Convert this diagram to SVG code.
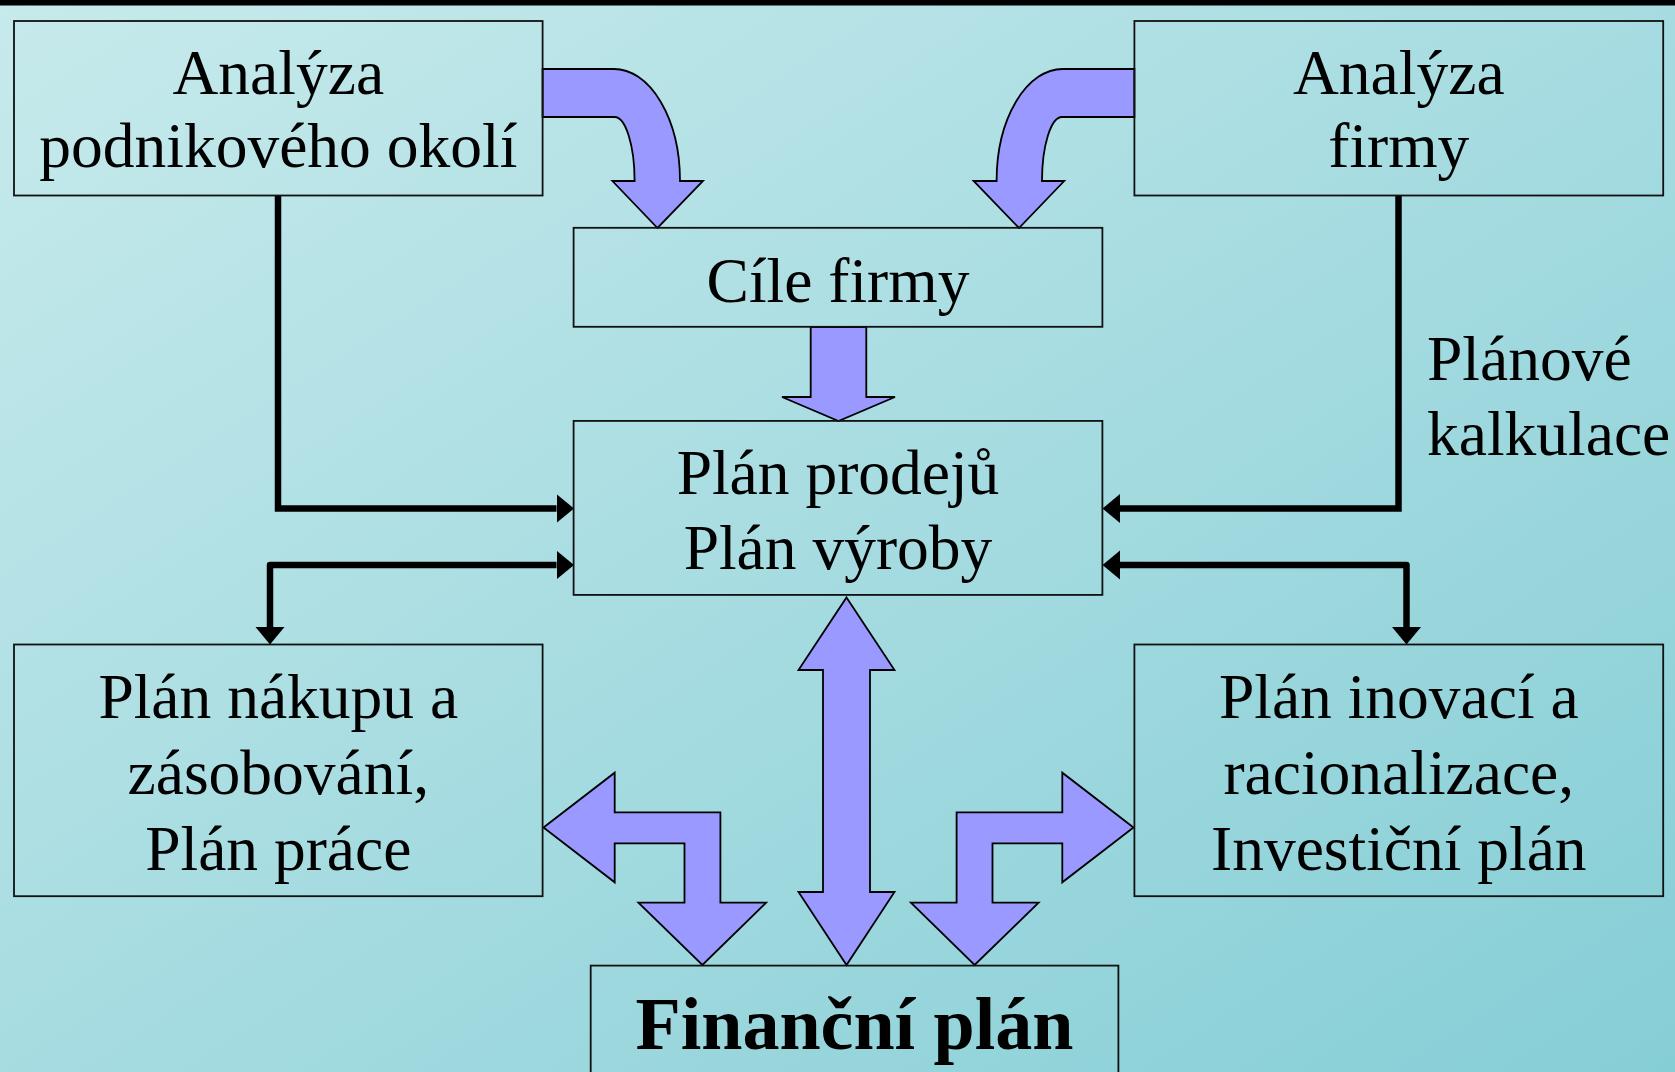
<svg xmlns="http://www.w3.org/2000/svg" width="1675" height="1072" viewBox="0 0 1675 1072">
<defs>
<linearGradient id="bg" x1="0" y1="0" x2="1" y2="1">
<stop offset="0" stop-color="#C7EAEC"/>
<stop offset="1" stop-color="#86CED6"/>
</linearGradient>
<marker id="ah" markerUnits="userSpaceOnUse" markerWidth="20" markerHeight="32" viewBox="0 -16 20 32" refX="0" refY="0" orient="auto-start-reverse">
<path d="M0,-14.5 L17.5,0 L0,14.5 Z" fill="#000"/>
</marker>
<style>
.box{fill:none;stroke:#111;stroke-width:1.8}
.t{font-family:"Liberation Serif","Times New Roman",serif;font-size:63.5px;fill:#000;text-anchor:middle}
.tl{text-anchor:start}
.b{font-weight:bold;font-size:74px}
.blk{fill:#9999FF;stroke:#000;stroke-width:1.8;stroke-linejoin:miter}
.con{fill:none;stroke:#000;stroke-width:6.5;marker-end:url(#ah)}
.dbl{marker-start:url(#ah)}
</style>
</defs>
<rect width="1675" height="1072" fill="url(#bg)"/>
<rect width="1675" height="5.5" fill="#000"/>

<g id="connectors">
<path class="blk" d="M542.6 69 L614 69 A66 112 0 0 1 680 181 L703 181 L657.5 228 L612.4 181 L634.6 181 A20 64 0 0 0 614.6 117 L542.6 117 Z"/>
<path class="blk" d="M1134.4 69 L1062.6 69 A66 112 0 0 0 996.6 181 L973.6 181 L1019 228 L1064.2 181 L1042 181 A20 64 0 0 1 1062 117 L1134.4 117 Z"/>
<path class="blk" d="M810.7 327 L866.3 327 L866.3 397 L895 397 L838.5 421 L782 397 L810.7 397 Z"/>
<path class="blk" d="M846.5 597.5 L894.5 670 L870 670 L870 892 L894.5 892 L846.5 965 L798.5 892 L823 892 L823 670 L798.5 670 Z"/>
<path class="blk" d="M543.5 827.5 L614.7 772.7 L614.7 812.3 L720.4 812.3 L720.4 902.7 L766.1 902.7 L702.4 965 L638.4 902.7 L684.5 902.7 L684.5 843.3 L614.7 843.3 L614.7 882.3 Z"/>
<path class="blk" d="M1133.5 827.5 L1062.3 772.7 L1062.3 812.3 L956.6 812.3 L956.6 902.7 L910.9 902.7 L974.6 965 L1038.6 902.7 L992.5 902.7 L992.5 843.3 L1062.3 843.3 L1062.3 882.3 Z"/>
<path class="con" d="M278 196 L278 508.5 L556.5 508.5"/>
<path class="con dbl" stroke-linejoin="round" d="M556.5 565 L270 565 L270 627"/>
<path class="con" d="M1398.5 196 L1398.5 508.5 L1120 508.5"/>
<path class="con dbl" stroke-linejoin="round" d="M1120 565 L1406.5 565 L1406.5 627"/>
</g>

<g id="analyza-okoli">
<rect class="box" x="14" y="21" width="528.6" height="174.5"/>
<text class="t" x="278.3" y="94">Analýza</text>
<text class="t" x="278.3" y="167">podnikového okolí</text>
</g>
<g id="analyza-firmy">
<rect class="box" x="1134.4" y="21" width="528.8" height="174.5"/>
<text class="t" x="1398.8" y="94">Analýza</text>
<text class="t" x="1398.8" y="167">firmy</text>
</g>
<g id="cile-firmy">
<rect class="box" x="573.6" y="227.8" width="528.8" height="99"/>
<text class="t" x="838" y="302">Cíle firmy</text>
</g>
<g id="plan-prodeju">
<rect class="box" x="573.6" y="420.9" width="528.8" height="174"/>
<text class="t" x="838" y="494">Plán prodejů</text>
<text class="t" x="838" y="569">Plán výroby</text>
</g>
<g id="planove-kalkulace">
<text class="t tl" x="1427" y="380">Plánové</text>
<text class="t tl" x="1427" y="455">kalkulace</text>
</g>
<g id="plan-nakupu">
<rect class="box" x="14" y="644.5" width="528.6" height="251.7"/>
<text class="t" x="278.3" y="718">Plán nákupu a</text>
<text class="t" x="278.3" y="794">zásobování,</text>
<text class="t" x="278.3" y="870">Plán práce</text>
</g>
<g id="plan-inovaci">
<rect class="box" x="1134.4" y="644.5" width="528.8" height="251.7"/>
<text class="t" x="1398.8" y="718">Plán inovací a</text>
<text class="t" x="1398.8" y="794">racionalizace,</text>
<text class="t" x="1398.8" y="870">Investiční plán</text>
</g>
<g id="financni-plan">
<rect class="box" x="590.7" y="965.6" width="527.7" height="120"/>
<text class="t b" x="854.5" y="1049">Finanční plán</text>
</g>
</svg>
